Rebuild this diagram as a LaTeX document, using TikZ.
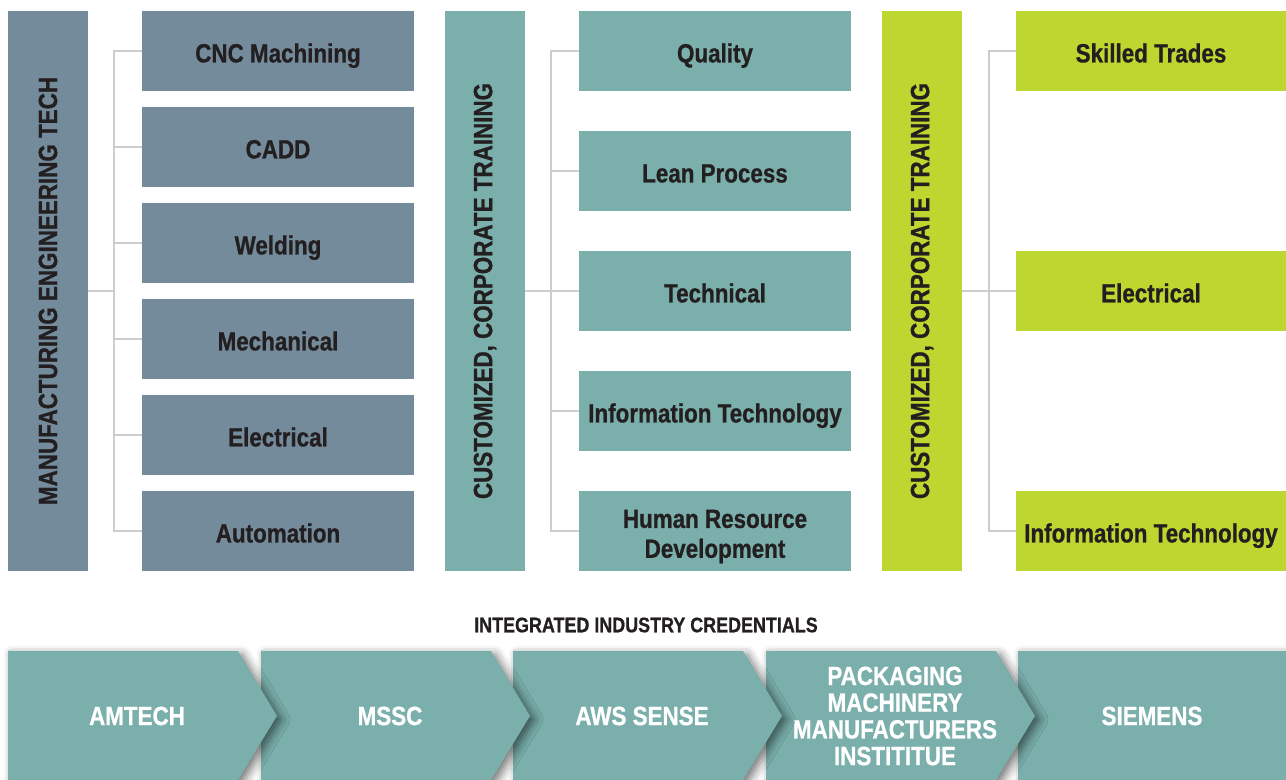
\documentclass[tikz,border=0pt]{standalone}
\usepackage{fontspec}
\setmainfont{Liberation Sans}[FakeStretch=0.85, BoldFeatures={FakeBold=0.8}]
\usetikzlibrary{
    positioning,
    calc,
    shadows.blur
}
\definecolor{slateBlue}{RGB}{116, 139, 156}
\definecolor{tealGreen}{RGB}{122, 175, 171}
\definecolor{limeGreen}{RGB}{189, 214, 48}
\definecolor{textDark}{RGB}{35, 31, 32}
\definecolor{linkGray}{RGB}{205, 205, 205}
\def\pageW{1286}
\def\pageH{780}
\tikzset{
    header/.style={
        rectangle,
        minimum width=1.6cm,
        minimum height=11.2cm,
        inner sep=0pt,
        text=textDark,
        font=\bfseries\fontsize{15}{15}\selectfont
    },
    track/.style={
        rectangle,
        minimum width=5.44cm,
        minimum height=1.6cm,
        inner sep=0pt,
        align=center,
        text height=13pt,
        text depth=0pt,
        text=textDark,
        font=\bfseries\fontsize{15}{17}\selectfont
    },
    link/.style={
        draw=linkGray,
        line width=1.2pt
    },
    chevron/.style={
        fill=tealGreen,
        blur shadow={shadow xshift=2.5pt, shadow yshift=-2pt, shadow blur radius=5pt, shadow opacity=55}
    },
    badge/.style={
        align=center,
        inner sep=0pt,
        text=white,
        font=\bfseries\fontsize{15}{15.2}\selectfont
    },
    caption/.style={
        text=textDark,
        font=\bfseries\fontsize{12}{12}\selectfont
    }
}

\begin{document}
\begin{tikzpicture}[x=0.02cm, y=-0.02cm]
    \useasboundingbox (0,0) rectangle (\pageW, \pageH);

    % Manufacturing engineering column
    \node[header, fill=slateBlue] (mfg) at (48, 291) {\rotatebox{90}{MANUFACTURING ENGINEERING TECH}};
    \node[track, fill=slateBlue] (cnc) at (278, 51) {CNC Machining};
    \node[track, fill=slateBlue] (cadd) at (278, 147) {CADD};
    \node[track, fill=slateBlue] (weld) at (278, 243) {Welding};
    \node[track, fill=slateBlue] (mech) at (278, 339) {Mechanical};
    \node[track, fill=slateBlue] (elecA) at (278, 435) {Electrical};
    \node[track, fill=slateBlue] (auto) at (278, 531) {Automation};

    \coordinate (busA) at (114, 291);
    \draw[link] (cnc.west) -| (busA) |- (auto.west);
    \draw[link] (mfg.east) -- (busA);
    \foreach \n in {cadd, weld, mech, elecA}
        \draw[link] (\n.west) -- (\n.west -| busA);

    % Corporate training column
    \node[header, fill=tealGreen] (corpA) at (485, 291) {\rotatebox{90}{CUSTOMIZED, CORPORATE TRAINING}};
    \node[track, fill=tealGreen] (quality) at (715, 51) {Quality};
    \node[track, fill=tealGreen] (lean) at (715, 171) {Lean Process};
    \node[track, fill=tealGreen] (tech) at (715, 291) {Technical};
    \node[track, fill=tealGreen] (itA) at (715, 411) {Information Technology};
    \node[track, fill=tealGreen, text height=30.5pt, text depth=0pt] (hrd) at (715, 531) {Human Resource\\Development};

    \coordinate (busB) at (551, 291);
    \draw[link] (quality.west) -| (busB) |- (hrd.west);
    \draw[link] (corpA.east) -- (busB);
    \foreach \n in {lean, tech, itA}
        \draw[link] (\n.west) -- (\n.west -| busB);

    % Second training column
    \node[header, fill=limeGreen] (corpB) at (922, 291) {\rotatebox{90}{CUSTOMIZED, CORPORATE TRAINING}};
    \node[track, fill=limeGreen, minimum width=5.4cm] (skilled) at (1151, 51) {Skilled Trades};
    \node[track, fill=limeGreen, minimum width=5.4cm] (elecB) at (1151, 291) {Electrical};
    \node[track, fill=limeGreen, minimum width=5.4cm] (itB) at (1151, 531) {Information Technology};

    \coordinate (busC) at (989, 291);
    \draw[link] (skilled.west) -| (busC) |- (itB.west);
    \draw[link] (corpB.east) -- (elecB.west);

    % Credentials strip
    \node[caption] (credits) at (646, 625) {INTEGRATED INDUSTRY CREDENTIALS};

    \fill[chevron] (1018, 651) rectangle (1300, 780);
    \node[badge] (siemens) at (1152, 716) {SIEMENS};
    \foreach \xl/\name/\txt in {766/pmmi/{PACKAGING\\MACHINERY\\MANUFACTURERS\\INSTITITUE}, 513/aws/{AWS SENSE}, 261/mssc/{MSSC}, 8/amtech/{AMTECH}}{
        \fill[chevron] (\xl, 651) -- ++(230, 0) -- ++(39, 65) -- ++(-39, 64) -- ++(-230, 0) -- cycle;
        \node[badge] (\name) at (\xl+129, 716) {\txt};
    }
\end{tikzpicture}
\end{document}
